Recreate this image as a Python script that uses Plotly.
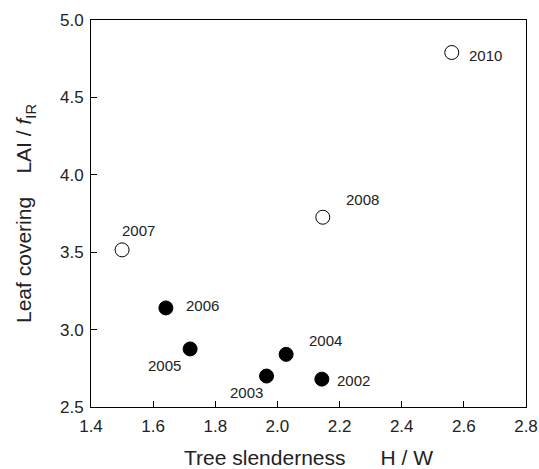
import plotly.graph_objects as go

years = ["2002", "2003", "2004", "2005", "2006", "2007", "2008", "2010"]
slenderness = [2.143, 1.965, 2.028, 1.719, 1.641, 1.500, 2.146, 2.561]
leaf_cover = [2.68, 2.70, 2.84, 2.875, 3.14, 3.515, 3.726, 4.79]
filled = [True, True, True, True, True, False, False, False]

x_ticks = [1.4, 1.6, 1.8, 2.0, 2.2, 2.4, 2.6, 2.8]
y_ticks = [2.5, 3.0, 3.5, 4.0, 4.5, 5.0]

# label placement (pixels): anchor, xshift, yshift
label_pos = {
    "2002": ("left", 13, -1),
    "2003": ("right", -2, -16),
    "2004": ("left", 21, 14),
    "2005": ("right", -7, -17),
    "2006": ("left", 18, 2),
    "2007": ("left", -2, 19),
    "2008": ("left", 21, 18),
    "2010": ("left", 15, -3),
}

FONT = "Arial, Liberation Sans, Helvetica, sans-serif"
TXT = "#222"

fig = go.Figure()
xs_f = [x for x, f in zip(slenderness, filled) if f]
ys_f = [y for y, f in zip(leaf_cover, filled) if f]
xs_o = [x for x, f in zip(slenderness, filled) if not f]
ys_o = [y for y, f in zip(leaf_cover, filled) if not f]

fig.add_trace(go.Scatter(x=xs_f, y=ys_f, mode="markers",
                         marker=dict(size=14, color="black", line=dict(color="black", width=1)),
                         showlegend=False))
fig.add_trace(go.Scatter(x=xs_o, y=ys_o, mode="markers",
                         marker=dict(size=14, color="white", line=dict(color="black", width=1)),
                         showlegend=False))

for yr, x, y in zip(years, slenderness, leaf_cover):
    anc, dx, dy = label_pos[yr]
    fig.add_annotation(x=x, y=y, text=yr, showarrow=False, xanchor=anc, yanchor="middle",
                       xshift=dx, yshift=dy, font=dict(family=FONT, size=15, color=TXT))

fig.update_layout(
    width=539, height=469,
    margin=dict(l=91, r=13, t=20, b=62),
    plot_bgcolor="white", paper_bgcolor="white",
    font=dict(family=FONT, color=TXT),
)
common = dict(ticks="inside", ticklen=6, tickcolor="black", showline=True, linecolor="black",
              linewidth=1, mirror=True, showgrid=False, zeroline=False, automargin=False,
              tickfont=dict(size=17, family=FONT, color=TXT))
fig.update_xaxes(range=[1.4, 2.8], tickvals=x_ticks, ticktext=[f"{v:.1f}" for v in x_ticks],
                 ticklabelstandoff=4,
                 title=dict(text="Tree slenderness" + "&nbsp;" * 6 + "H / W",
                            font=dict(size=21, family=FONT, color=TXT), standoff=18),
                 **common)
fig.update_yaxes(range=[2.5, 5.0], tickvals=y_ticks, ticktext=[f"{v:.1f}" for v in y_ticks],
                 ticklabelstandoff=3,
                 title=dict(text="Leaf covering" + "&nbsp;" * 4 + "LAI / <i>f</i><sub>IR</sub>",
                            font=dict(size=21, family=FONT, color=TXT), standoff=22),
                 **common)

fig.write_html("out.html")
